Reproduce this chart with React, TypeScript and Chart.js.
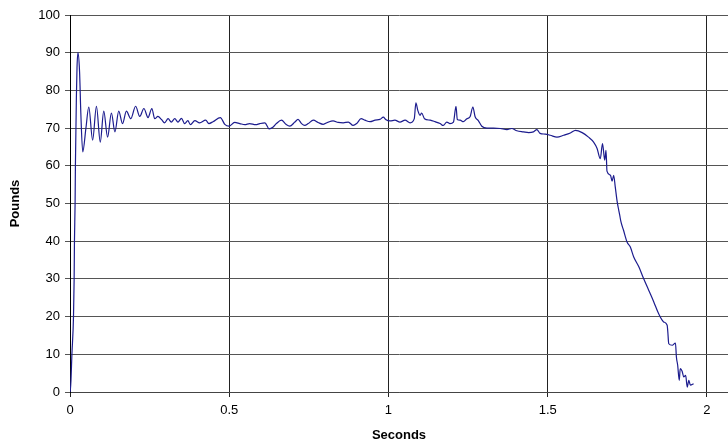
import React, { useEffect, useRef } from "react";
import { Chart, registerables } from "chart.js";

Chart.register(...registerables);

// Time (seconds) and force (pounds)
const seconds: number[] = [
  0, 0.001, 0.003, 0.006, 0.011, 0.013, 0.014, 0.016, 0.017, 0.02, 0.022, 0.025, 0.03, 0.034, 0.04, 0.05,
  0.059, 0.071, 0.083, 0.095, 0.106, 0.118, 0.13, 0.141, 0.153, 0.165, 0.177, 0.191, 0.206, 0.219, 0.232,
  0.245, 0.257, 0.266, 0.276, 0.287, 0.297, 0.308, 0.318, 0.329, 0.339, 0.35, 0.36, 0.37, 0.378, 0.392,
  0.407, 0.426, 0.436, 0.449, 0.472, 0.486, 0.499, 0.517, 0.533, 0.549, 0.564, 0.583, 0.596, 0.612, 0.625,
  0.638, 0.648, 0.664, 0.678, 0.69, 0.706, 0.716, 0.727, 0.737, 0.748, 0.764, 0.779, 0.795, 0.811, 0.826,
  0.842, 0.858, 0.874, 0.889, 0.9, 0.914, 0.926, 0.942, 0.958, 0.973, 0.984, 0.991, 1.005, 1.02, 1.036,
  1.052, 1.068, 1.081, 1.086, 1.092, 1.099, 1.104, 1.113, 1.131, 1.146, 1.162, 1.172, 1.183, 1.193, 1.204,
  1.212, 1.216, 1.225, 1.235, 1.246, 1.256, 1.265, 1.272, 1.282, 1.293, 1.309, 1.33, 1.351, 1.372, 1.387,
  1.403, 1.424, 1.44, 1.455, 1.466, 1.476, 1.492, 1.508, 1.529, 1.55, 1.571, 1.587, 1.608, 1.628, 1.644,
  1.655, 1.665, 1.672, 1.679, 1.683, 1.686, 1.697, 1.702, 1.707, 1.712, 1.718, 1.723, 1.726, 1.73, 1.738,
  1.749, 1.759, 1.77, 1.786, 1.801, 1.817, 1.833, 1.848, 1.864, 1.875, 1.877, 1.88, 1.891, 1.901, 1.904,
  1.908, 1.913, 1.916, 1.922, 1.927, 1.933, 1.938, 1.943, 1.948, 1.958,
];

const pounds: number[] = [
  0, 0.5, 3, 10, 20, 30, 40, 50, 60, 78, 86, 90, 85, 74, 63.7, 70,
  75.6, 66.8, 75.8, 66.3, 74.5, 67.6, 74, 69, 74.5, 71.2, 74.5, 72.5, 75.8, 73.1, 75.2,
  72.8, 75.2, 72.5, 73.1, 72.3, 71.4, 72.5, 71.6, 72.5, 71.6, 72.6, 71.2, 72.0, 70.9, 72.0,
  71.4, 72.1, 71.2, 71.7, 72.8, 71.0, 70.5, 71.5, 71.2, 70.9, 71.2, 70.9, 71.2, 71.4, 69.8,
  70.3, 71.2, 72.1, 71.0, 70.5, 71.6, 72.3, 71.2, 70.7, 71.2, 72.1, 71.5, 71.0, 71.6, 71.9,
  71.5, 71.4, 71.6, 70.7, 71.2, 72.5, 72.1, 71.7, 72.1, 72.3, 72.9, 72.3, 71.9, 72.1, 71.6,
  72.1, 71.4, 72.5, 76.7, 74.7, 73.4, 74.0, 72.5, 72.1, 71.7, 71.2, 70.7, 71.6, 71.2, 71.6,
  75.8, 72.3, 72.1, 71.7, 72.5, 73.0, 75.6, 73.0, 72.0, 70.5, 70.0, 70.0, 69.9, 69.6, 69.9,
  69.3, 69.0, 68.8, 69.0, 69.6, 68.6, 68.4, 68.1, 67.6, 68.1, 68.7, 69.4, 68.8, 67.6, 66.3,
  64.6, 61.9, 65.9, 61.5, 64.1, 58.6, 57.5, 55.9, 57.5, 54.4, 50.5, 48.2, 46.9, 45.1, 42.9,
  39.8, 38.5, 35.8, 33.2, 30.1, 27.0, 23.9, 20.8, 18.6, 17.7, 16.0, 12.8, 12.4, 13.0, 9.3,
  7.1, 3.1, 6.2, 5.5, 4.0, 4.4, 1.3, 3.1, 1.8, 2.2,
];

const xTitle = "Seconds";
const yTitle = "Pounds";

export default function App() {
  const ref = useRef<HTMLCanvasElement | null>(null);

  useEffect(() => {
    if (!ref.current) return;
    const points = seconds.map((s, i) => ({ x: s, y: pounds[i] }));
    const font = { family: "'Liberation Sans', Arial, sans-serif", size: 13 };
    const chart = new Chart(ref.current, {
      type: "line",
      data: {
        datasets: [
          {
            data: points,
            borderColor: "#1c1c8e",
            borderWidth: 1.2,
            pointRadius: 0,
            cubicInterpolationMode: "monotone",
            fill: false,
          },
        ],
      },
      options: {
        animation: false,
        responsive: false,
        devicePixelRatio: 1,
        plugins: { legend: { display: false }, tooltip: { enabled: false } },
        layout: { padding: { top: 15, right: 0, left: 0, bottom: 0 } },
        scales: {
          x: {
            type: "linear",
            min: 0,
            max: 2.066,
            afterFit: (s: any) => {
              s.height = 51;
            },
            ticks: {
              stepSize: 0.5,
              includeBounds: false,
              color: "#000",
              font,
              padding: 6,
              maxRotation: 0,
              callback: (v: any) => String(Number(v)),
            },
            grid: { color: "#222", lineWidth: 1, tickLength: 5, drawTicks: true },
            border: { display: true, color: "#444" },
            title: {
              display: true,
              text: xTitle,
              color: "#000",
              font: { ...font, weight: "bold" },
              padding: { top: 0, bottom: 0 },
            },
          },
          y: {
            min: 0,
            max: 100,
            afterFit: (s: any) => {
              s.width = 70;
            },
            ticks: { stepSize: 10, color: "#000", font, padding: 5 },
            grid: { color: "#555", lineWidth: 1, tickLength: 5, drawTicks: true },
            border: { display: true, color: "#000" },
            title: {
              display: true,
              text: yTitle,
              color: "#000",
              font: { ...font, weight: "bold" },
              padding: { top: 8, bottom: 0 },
            },
          },
        },
      },
    });
    return () => chart.destroy();
  }, []);

  return (
    <div style={{ position: "fixed", left: 0, top: 0, width: 728, height: 443, background: "#fff" }}>
      <canvas ref={ref} width={728} height={443} style={{ width: 728, height: 443, display: "block" }} />
    </div>
  );
}
